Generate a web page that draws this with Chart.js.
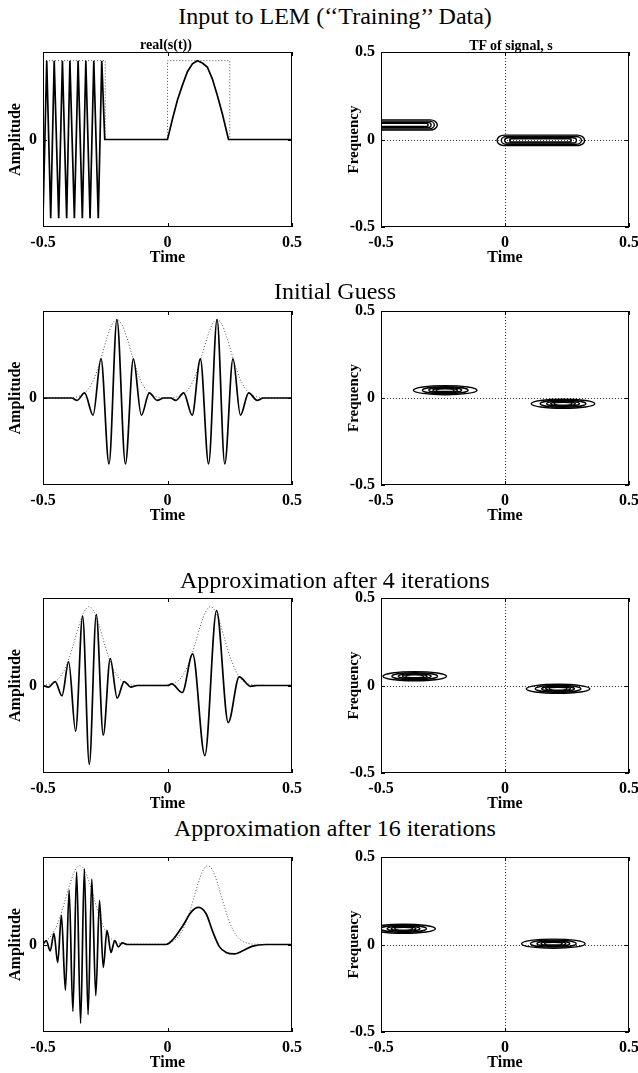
<!DOCTYPE html>
<html>
<head>
<meta charset="utf-8">
<title>LEM approximation</title>
<script src="https://cdn.jsdelivr.net/npm/chart.js@4.4.1/dist/chart.umd.min.js"></script>
<style>
  html, body { margin: 0; padding: 0; background: #fff; }
  #page { position: relative; width: 638px; height: 1073px; overflow: hidden; }
  canvas { position: absolute; }
  .label { position: absolute; transform: translate(-50%, -50%); line-height: 1; white-space: nowrap;
           font-family: 'Liberation Serif', 'Times New Roman', serif; color: #000; }
  .row-title { font-size: 24px; }
  .sub-title { font-size: 14px; font-weight: bold; }
</style>
</head>
<body>
<div id="page"></div>
<script>
// ticks and labels
const timeTicks = [-0.5, 0, 0.5];
const freqTicks = [-0.5, 0, 0.5];
const ampTicks = [0];
const rowTitles = ['Input to LEM (\u2018\u2018Training\u2019\u2019 Data)', 'Initial Guess',
  'Approximation after 4 iterations', 'Approximation after 16 iterations'];
const signalTitle = 'real(s(t))';
const tfTitle = 'TF of signal, s';

// row 1: training signal and its rectangular envelopes
const trainSignalT = [-0.5, -0.485, -0.469, -0.455, -0.437, -0.422, -0.405, -0.392, -0.374, -0.359,
  -0.342, -0.328, -0.311, -0.296, -0.278, -0.264, -0.252, 0, 0.02, 0.04, 0.06, 0.08, 0.1, 0.12,
  0.14, 0.16, 0.18, 0.2, 0.22, 0.245, 0.5];
const trainSignalA = [-1, 1, -1, 1, -1, 1, -1, 1, -1, 1, -1, 1, -1, 1, -1, 1, 0, 0, 0.26, 0.5,
  0.69, 0.86, 0.96, 1, 0.97, 0.92, 0.77, 0.56, 0.33, 0, 0];
const trainEnvT = [-0.5, -0.25, -0.25, 0, 0, 0.25, 0.25, 0.5];
const trainEnvA = [1, 1, 0, 0, 1, 1, 0, 0];
// row 1 TF contours (long bands)
const trainBandStart = [-0.6, -0.6, -0.6, -0.6, -0.032, -0.015, -0.001, 0.019];
const trainBandEnd = [-0.273, -0.285, -0.298, -0.31, 0.321, 0.308, 0.288, 0.267];
const trainBandFreq = [0.083, 0.083, 0.083, 0.083, -0.005, -0.005, -0.005, -0.005];
const trainBandHalf = [0.029, 0.022, 0.015, 0.009, 0.03, 0.022, 0.015, 0.009];

// row 2: initial guess
const guessSignalT = [-0.5, -0.385, -0.363, -0.333, -0.299, -0.267, -0.235, -0.203, -0.169, -0.137,
  -0.105, -0.073, -0.042, -0.015, 0.012, 0.034, 0.065, 0.099, 0.132, 0.165, 0.199, 0.23, 0.263,
  0.293, 0.326, 0.36, 0.385, 0.5];
const guessSignalA = [0, 0, -0.03, 0.065, -0.22, 0.5, -0.84, 1, -0.84, 0.5, -0.22, 0.065, -0.03, 0,
  0, -0.03, 0.065, -0.22, 0.5, -0.84, 1, -0.84, 0.5, -0.22, 0.065, -0.03, 0, 0];
const guessEnvT = [-0.5, -0.393, -0.363, -0.343, -0.323, -0.303, -0.283, -0.263, -0.243, -0.223,
  -0.203, -0.183, -0.163, -0.143, -0.123, -0.103, -0.083, -0.063, -0.043, -0.013,
  0.009, 0.039, 0.059, 0.079, 0.099, 0.119, 0.139, 0.159, 0.179, 0.199,
  0.219, 0.239, 0.259, 0.279, 0.299, 0.319, 0.339, 0.359, 0.389, 0.5];
const guessEnvA = [0, 0.003, 0.015, 0.039, 0.093, 0.192, 0.347, 0.551, 0.767, 0.936,
  1, 0.936, 0.767, 0.551, 0.347, 0.192, 0.093, 0.039, 0.015, 0.003,
  0.003, 0.015, 0.039, 0.093, 0.192, 0.347, 0.551, 0.767, 0.936, 1,
  0.936, 0.767, 0.551, 0.347, 0.192, 0.093, 0.039, 0.015, 0.003, 0];
const guessTfT = [-0.241, 0.234];
const guessTfF = [0.045, -0.033];

// row 3: after 4 iterations
const iter4SignalT = [-0.5, -0.477, -0.451, -0.424, -0.397, -0.369, -0.341, -0.314, -0.286, -0.258,
  -0.23, -0.202, -0.174, -0.148, -0.12, 0, 0.017, 0.059, 0.101, 0.15, 0.197, 0.244, 0.288, 0.333,
  0.36, 0.5];
const iter4SignalA = [0, -0.02, 0.05, -0.13, 0.3, -0.58, 0.88, -1, 0.9, -0.63, 0.34, -0.16, 0.05,
  -0.02, 0, 0, 0.02, -0.09, 0.4, -0.89, 0.95, -0.47, 0.11, -0.01, 0, 0];
const iter4EnvT = [-0.5, -0.475, -0.455, -0.435, -0.415, -0.395, -0.375, -0.355, -0.335, -0.315,
  -0.295, -0.275, -0.255, -0.235, -0.215, -0.195, -0.175, -0.155, -0.125,
  -0.017, 0.013, 0.033, 0.053, 0.073, 0.093, 0.113, 0.133, 0.153, 0.173,
  0.193, 0.213, 0.233, 0.253, 0.273, 0.293, 0.313, 0.333, 0.363, 0.5];
const iter4EnvA = [0.004, 0.015, 0.039, 0.093, 0.192, 0.347, 0.551, 0.767, 0.936, 1,
  0.936, 0.767, 0.551, 0.347, 0.192, 0.093, 0.039, 0.015, 0.003,
  0.003, 0.015, 0.039, 0.093, 0.192, 0.347, 0.551, 0.767, 0.936, 1,
  0.936, 0.767, 0.551, 0.347, 0.192, 0.093, 0.039, 0.015, 0.003, 0];
const iter4TfT = [-0.364, 0.214];
const iter4TfF = [0.053, -0.019];

// row 4: after 16 iterations
const iter16SignalT = [-0.5, -0.487, -0.471, -0.456, -0.441, -0.426, -0.41, -0.395, -0.38, -0.365,
  -0.349, -0.334, -0.319, -0.304, -0.288, -0.273, -0.258, -0.243, -0.227, -0.212, -0.197, -0.182,
  -0.16, -0.005, 0.021, 0.062, 0.095, 0.124, 0.155, 0.182, 0.209, 0.235, 0.269, 0.302, 0.342,
  0.396, 0.5];
const iter16SignalA = [0, 0.05, -0.08, 0.14, -0.23, 0.37, -0.58, 0.69, -0.85, 0.92, -1, 0.96,
  -0.89, 0.83, -0.65, 0.56, -0.29, 0.18, -0.1, 0.05, -0.03, 0.02, 0, 0, 0.06, 0.24, 0.41, 0.47,
  0.39, 0.16, -0.03, -0.1, -0.12, -0.08, -0.02, 0, 0];
const iter16EnvT = [-0.5, -0.492, -0.472, -0.452, -0.432, -0.412, -0.392, -0.372, -0.352,
  -0.332, -0.312, -0.292, -0.272, -0.252, -0.232, -0.212, -0.192, -0.162,
  -0.028, 0.002, 0.022, 0.042, 0.062, 0.082, 0.102, 0.122, 0.142, 0.162,
  0.182, 0.202, 0.222, 0.242, 0.262, 0.282, 0.302, 0.322, 0.352, 0.5];
const iter16EnvA = [0.027, 0.039, 0.093, 0.192, 0.347, 0.551, 0.767, 0.936, 1,
  0.936, 0.767, 0.551, 0.347, 0.192, 0.093, 0.039, 0.015, 0.003,
  0.003, 0.015, 0.039, 0.093, 0.192, 0.347, 0.551, 0.767, 0.936, 1,
  0.936, 0.767, 0.551, 0.347, 0.192, 0.093, 0.039, 0.015, 0.003, 0];
const iter16TfT = [-0.409, 0.195];
const iter16TfF = [0.09, 0.005];

// nested contour sizes (half-width in time, half-height in frequency)
const contourHalfT = [0.128, 0.092, 0.066, 0.05, 0.036];
const contourHalfF = [0.026, 0.02, 0.015, 0.012, 0.008];

// layout
const rowTop = [52, 311, 598, 857];
const rowHeight = [175, 174, 175, 175];
const titleY = [16, 291, 580, 828];
const ampLimit = 1.11;

Chart.defaults.font.family = "'Liberation Serif', 'Times New Roman', serif";
Chart.defaults.color = '#000';

const page = document.getElementById('page');

const addLabel = (text, cls, x, y) => {
  const el = document.createElement('div');
  el.className = 'label ' + cls;
  el.style.left = x + 'px';
  el.style.top = y + 'px';
  el.textContent = text;
  page.appendChild(el);
};

const addCanvas = (left, top, width, height) => {
  const c = document.createElement('canvas');
  c.width = width;
  c.height = height;
  c.style.left = left + 'px';
  c.style.top = top + 'px';
  c.style.width = width + 'px';
  c.style.height = height + 'px';
  page.appendChild(c);
  return c;
};

const toPoints = (xs, ys) => xs.map((x, i) => ({ x, y: ys[i] }));

// box, inward ticks, dotted zero lines and TF contours
const makeFrame = (cfg) => ({
  id: 'frame',
  beforeDatasetsDraw(chart) {
    if (!cfg.zeroLines) return;
    const { ctx, chartArea: a, scales: { x, y } } = chart;
    const x0 = Math.round(x.getPixelForValue(0)) + 0.5;
    const y0 = Math.round(y.getPixelForValue(0)) + 0.5;
    ctx.save();
    ctx.strokeStyle = '#333';
    ctx.lineWidth = 1;
    ctx.setLineDash([1, 2]);
    ctx.beginPath();
    ctx.moveTo(x0, a.top);
    ctx.lineTo(x0, a.bottom);
    ctx.moveTo(a.left, y0);
    ctx.lineTo(a.right, y0);
    ctx.stroke();
    ctx.restore();
  },
  afterDatasetsDraw(chart) {
    const { ctx, chartArea: a, scales: { x, y } } = chart;
    ctx.save();
    ctx.beginPath();
    ctx.rect(a.left, a.top, a.right - a.left, a.bottom - a.top);
    ctx.clip();
    ctx.strokeStyle = '#000';
    ctx.lineWidth = 1.4;
    (cfg.ellipses || []).forEach((e) => {
      const cx = x.getPixelForValue(e.t);
      const cy = y.getPixelForValue(e.f);
      const rx = x.getPixelForValue(e.t + e.ht) - cx;
      const ry = cy - y.getPixelForValue(e.f + e.hf);
      ctx.beginPath();
      ctx.ellipse(cx, cy, rx, ry, 0, 0, Math.PI * 2);
      ctx.stroke();
    });
    (cfg.bands || []).forEach((b) => {
      const x0 = x.getPixelForValue(b.t0);
      const x1 = x.getPixelForValue(b.t1);
      const cy = y.getPixelForValue(b.f);
      const ry = cy - y.getPixelForValue(b.f + b.hf);
      const rx = x.getPixelForValue(b.t0 + b.hf) - x0;
      ctx.beginPath();
      ctx.moveTo(x0 + rx, cy - ry);
      ctx.lineTo(x1 - rx, cy - ry);
      ctx.ellipse(x1 - rx, cy, rx, ry, 0, -Math.PI / 2, Math.PI / 2);
      ctx.lineTo(x0 + rx, cy + ry);
      ctx.ellipse(x0 + rx, cy, rx, ry, 0, Math.PI / 2, Math.PI * 1.5);
      ctx.closePath();
      ctx.stroke();
    });
    ctx.restore();

    ctx.save();
    ctx.strokeStyle = '#000';
    ctx.lineWidth = 1;
    ctx.strokeRect(a.left + 0.5, a.top + 0.5, a.right - a.left - 1, a.bottom - a.top - 1);
    ctx.beginPath();
    cfg.xTicks.forEach((v) => {
      const px = Math.round(x.getPixelForValue(v)) + 0.5;
      ctx.moveTo(px, a.top);
      ctx.lineTo(px, a.top + 4);
      ctx.moveTo(px, a.bottom);
      ctx.lineTo(px, a.bottom - 4);
    });
    cfg.yTicks.forEach((v) => {
      const py = Math.round(y.getPixelForValue(v)) + 0.5;
      ctx.moveTo(a.left, py);
      ctx.lineTo(a.left + 4, py);
      ctx.moveTo(a.right, py);
      ctx.lineTo(a.right - 4, py);
    });
    ctx.stroke();
    ctx.restore();
  }
});

const axis = (min, max, ticks, title, size, horizontal, titlePad, titleSize) => ({
  type: 'linear',
  min,
  max,
  afterBuildTicks: (s) => {
    s.ticks = ticks.map((value) => ({ value }));
  },
  afterFit: (s) => {
    if (horizontal) s.height = size;
    else s.width = size;
    s.paddingLeft = 0;
    s.paddingRight = 0;
    s.paddingTop = 0;
    s.paddingBottom = 0;
  },
  grid: { display: false, drawTicks: false },
  border: { display: false },
  ticks: {
    autoSkip: false,
    maxRotation: 0,
    padding: 6,
    color: '#000',
    font: { size: 16, weight: 'bold' },
    callback: (v) => String(v)
  },
  title: {
    display: true,
    text: title,
    color: '#000',
    padding: titlePad,
    font: { size: titleSize, weight: 'bold' }
  }
});

const baseOptions = (padRight) => ({
  responsive: false,
  animation: false,
  devicePixelRatio: 1,
  events: [],
  layout: { padding: { top: 10, right: padRight, left: 0, bottom: 0 } },
  plugins: { legend: { display: false }, tooltip: { enabled: false } }
});

const signalPanel = (row, signalT, signalA, envT, envA, smooth) => {
  const canvas = addCanvas(0, rowTop[row] - 10, 310, rowHeight[row] + 50);
  const line = {
    data: toPoints(signalT, signalA),
    showLine: true,
    pointRadius: 0,
    borderColor: '#000',
    borderWidth: 1.7,
    tension: 0
  };
  if (smooth) line.cubicInterpolationMode = 'monotone';
  const envelope = {
    data: toPoints(envT, envA),
    showLine: true,
    pointRadius: 0,
    borderColor: '#555',
    borderWidth: 1,
    borderDash: [1, 2],
    tension: 0
  };
  if (smooth) envelope.cubicInterpolationMode = 'monotone';
  const options = baseOptions(18);
  options.scales = {
    x: axis(-0.5, 0.5, timeTicks, 'Time', 40, true, { top: 0, bottom: 0 }, 16),
    y: axis(-ampLimit, ampLimit, ampTicks, 'Amplitude', 43, false, { top: 6, bottom: 0 }, 16)
  };
  new Chart(canvas, {
    type: 'scatter',
    data: { datasets: [line, envelope] },
    options,
    plugins: [makeFrame({ xTicks: timeTicks, yTicks: ampTicks })]
  });
};

const tfPanel = (row, frame) => {
  const canvas = addCanvas(330, rowTop[row] - 10, 308, rowHeight[row] + 50);
  const options = baseOptions(9);
  options.scales = {
    x: axis(-0.5, 0.5, timeTicks, 'Time', 40, true, { top: 0, bottom: 0 }, 16),
    y: axis(-0.5, 0.5, freqTicks, 'Frequency', 51, false, { top: 15, bottom: 0 }, 15)
  };
  new Chart(canvas, {
    type: 'scatter',
    data: { datasets: [] },
    options,
    plugins: [makeFrame(Object.assign({ zeroLines: true, xTicks: timeTicks, yTicks: freqTicks }, frame))]
  });
};

const nestedEllipses = (centersT, centersF) =>
  centersT.flatMap((t, k) =>
    contourHalfT.map((ht, j) => ({ t, f: centersF[k], ht, hf: contourHalfF[j] })));

const trainBands = trainBandStart.map((t0, i) => ({
  t0, t1: trainBandEnd[i], f: trainBandFreq[i], hf: trainBandHalf[i]
}));

signalPanel(0, trainSignalT, trainSignalA, trainEnvT, trainEnvA, false);
tfPanel(0, { bands: trainBands });
signalPanel(1, guessSignalT, guessSignalA, guessEnvT, guessEnvA, true);
tfPanel(1, { ellipses: nestedEllipses(guessTfT, guessTfF) });
signalPanel(2, iter4SignalT, iter4SignalA, iter4EnvT, iter4EnvA, true);
tfPanel(2, { ellipses: nestedEllipses(iter4TfT, iter4TfF) });
signalPanel(3, iter16SignalT, iter16SignalA, iter16EnvT, iter16EnvA, true);
tfPanel(3, { ellipses: nestedEllipses(iter16TfT, iter16TfF) });

rowTitles.forEach((text, i) => addLabel(text, 'row-title', 335, titleY[i]));
addLabel(signalTitle, 'sub-title', 166, 45);
addLabel(tfTitle, 'sub-title', 511, 46);
</script>
</body>
</html>
